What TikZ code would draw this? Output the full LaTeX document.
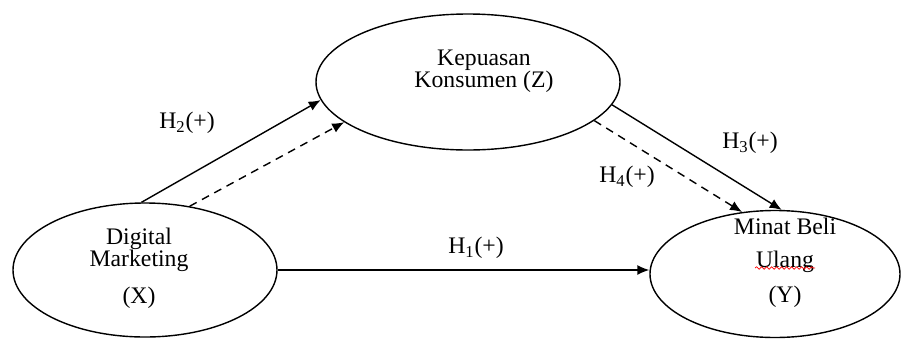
\documentclass[tikz,border=0pt]{standalone}
\usepackage{fontspec}
\setmainfont{Liberation Serif}
\usepackage{tikz}
\usetikzlibrary{positioning, arrows.meta, calc, shapes.geometric, decorations.pathmorphing}

\begin{document}
\begin{tikzpicture}[>={Latex[length=2.4mm, width=2mm]}, font=\fontsize{13.5}{12.5}\selectfont,
      var/.style={draw, ellipse, line width=0.8pt, inner sep=0pt},
      txt/.style={align=center, inner sep=0pt},
      hyp/.style={font=\fontsize{13.5}{12.5}\selectfont, inner sep=0pt},
      path/.style={->, line width=0.8pt},
      ind/.style={->, line width=0.8pt, dash pattern=on 1.6mm off 1.2mm}]
    \useasboundingbox (0,0) rectangle (18.04,6.8);
    % --- the three variables ---
    \node[var, minimum width=5.28cm, minimum height=2.68cm] (X) at (2.9,1.4) {};
    \node[var, minimum width=6.08cm, minimum height=2.72cm] (Z) at (9.36,5.16) {};
    \node[var, minimum width=5.0cm, minimum height=2.54cm]  (Y) at (15.5,1.32) {};
    \node[txt] (Xtxt) at (2.78,1.44) {Digital\\Marketing\\[8.5pt](X)};
    \node[txt] (Ztxt) at (9.68,5.37) {Kepuasan\\Konsumen (Z)};
    \node[txt] (Ytxt) at (15.7,1.54) {Minat Beli\\[6pt]Ulang\\[7.5pt](Y)};
    \draw[red, line width=0.4pt, decorate, decoration={snake, amplitude=0.25mm, segment length=1mm}]
      (15.1,1.44) -- (16.3,1.44);
    % --- hypotheses ---
    \draw[path] (X.east) -- (X.east -| Y.west);
    \draw[path] (X.93) -- (Z.187);
    \draw[ind]  (X.55) -- (Z.198);
    \draw[path] (Z.-9) -- (Y.84);
    \draw[ind]  (Z.-17) -- (Y.118);
    \node[hyp] (h1) at (9.52,1.84) {H\textsubscript{1}(+)};
    \node[hyp] (h2) at (3.74,4.34) {H\textsubscript{2}(+)};
    \node[hyp] (h3) at (15.0,3.94) {H\textsubscript{3}(+)};
    \node[hyp] (h4) at (12.54,3.26) {H\textsubscript{4}(+)};
  \end{tikzpicture}
\end{document}
